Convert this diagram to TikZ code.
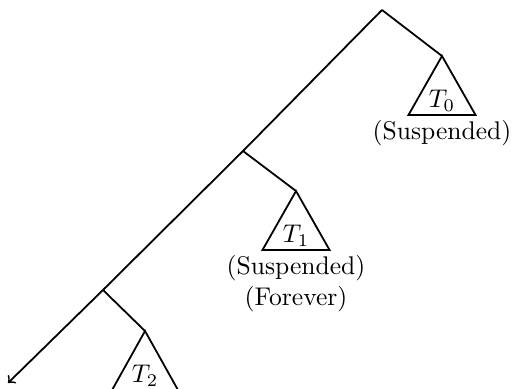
\documentclass[tikz,border=0pt]{standalone}
\usepackage{amsmath}
\usepackage{tikz}
\usetikzlibrary{positioning,calc}
\tikzset{
  ast/.style={black,line width=0.7pt},
  pfeil/.style={->,black,line width=0.7pt},
  baum/.style={black,line width=0.7pt},
  tname/.style={inner sep=3.33pt},
  zustand/.style={align=center,inner sep=1pt},
}

\begin{document}
\begin{tikzpicture}
  \useasboundingbox (0,0) rectangle (7.067,-5.348);
  % spine
  \coordinate (a0) at (5.252,-0.137);
  \coordinate (a1) at (3.341,-2.076);
  \coordinate (a2) at (1.416,-3.987);
  \coordinate (ende) at (0.110,-5.266);
  % subtree tops
  \coordinate (c0) at (6.077,-0.770);
  \coordinate (c1) at (4.070,-2.626);
  \coordinate (c2) at (1.994,-4.551);
  \draw[ast] (a0) -- (a1) -- (a2);
  \draw[pfeil] (a2) -- (ende);
  \draw[ast] (a0) -- (c0);
  \draw[ast] (a1) -- (c1);
  \draw[ast] (a2) -- (c2);
  % subtrees
  \draw[baum] (c0) -- ++(-0.461,-0.811) coordinate (l0) -- ++(0.922,0) -- cycle;
  \draw[baum] (c1) -- ++(-0.461,-0.811) coordinate (l1) -- ++(0.922,0) -- cycle;
  \draw[baum] (c2) -- ++(-0.461,-0.825) coordinate (l2) -- ++(0.922,0) -- cycle;
  \coordinate (b0) at ($(l0)+(0.461,0)$);
  \coordinate (b1) at ($(l1)+(0.461,0)$);
  \node[tname] (t0) [below=0.34cm of c0] {$T_0$};
  \node[tname] (t1) [below=0.34cm of c1] {$T_1$};
  \node[tname] (t2) [below=0.34cm of c2] {$T_2$};
  \node[zustand] (s0) [below=1pt of b0] {(Suspended)};
  \node[zustand] (s1) [below=1pt of b1] {(Suspended)\\(Forever)};
\end{tikzpicture}
\end{document}
